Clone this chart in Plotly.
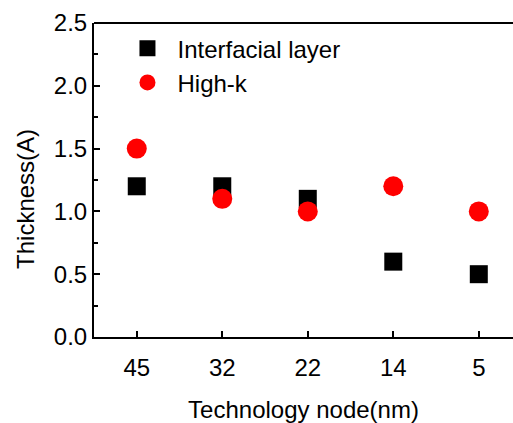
import plotly.graph_objects as go

# Gate-stack layer thickness per technology node
nodes = ["45", "32", "22", "14", "5"]
interfacial_layer = [1.2, 1.2, 1.1, 0.6, 0.5]
high_k = [1.5, 1.1, 1.0, 1.2, 1.0]

FONT = "Liberation Sans, Arial, sans-serif"
FS = 24

fig = go.Figure()
fig.add_trace(go.Scatter(
    x=nodes, y=interfacial_layer, mode="markers", name="Interfacial layer",
    marker=dict(symbol="square", size=18, color="black", line=dict(width=0)),
))
fig.add_trace(go.Scatter(
    x=nodes, y=high_k, mode="markers", name="High-k",
    marker=dict(symbol="circle", size=20, color="#ff0000", line=dict(width=0)),
))

axis_common = dict(
    showgrid=False, zeroline=False, showline=True, linecolor="black",
    linewidth=2, ticks="inside", tickcolor="black", tickwidth=2,
    tickfont=dict(family=FONT, size=FS, color="black"),
)

fig.update_layout(
    width=513, height=423,
    margin=dict(l=94, r=0, t=23, b=86),
    plot_bgcolor="white", paper_bgcolor="white",
    xaxis=dict(
        **axis_common, type="category", range=[-0.5, 4.4], ticklen=6,
        mirror=False, ticklabelstandoff=8,
        title=dict(text="Technology node(nm)", font=dict(family=FONT, size=FS, color="black"),
                   standoff=22),
    ),
    yaxis=dict(
        **axis_common, range=[0, 2.5], tick0=0, dtick=0.5, ticklen=6,
        tickformat=".1f",
        minor=dict(ticks="inside", dtick=0.25, ticklen=4, tickwidth=2, tickcolor="black"),
    ),
    legend=dict(
        x=0.056, y=0.99, xanchor="left", yanchor="top",
        bgcolor="rgba(0,0,0,0)", font=dict(family=FONT, size=FS, color="black"),
        itemsizing="trace", tracegroupgap=0, itemwidth=50,
    ),
    annotations=[dict(
        text="Thickness(A)", textangle=-90, showarrow=False,
        xref="paper", yref="paper", x=-0.162, y=0.44, xanchor="center", yanchor="middle",
        font=dict(family=FONT, size=FS, color="black"),
    )],
    shapes=[dict(
        type="line", xref="paper", yref="paper", x0=0, x1=1, y0=1, y1=1,
        line=dict(color="black", width=2),
    )],
)

fig.write_html("out.html")
